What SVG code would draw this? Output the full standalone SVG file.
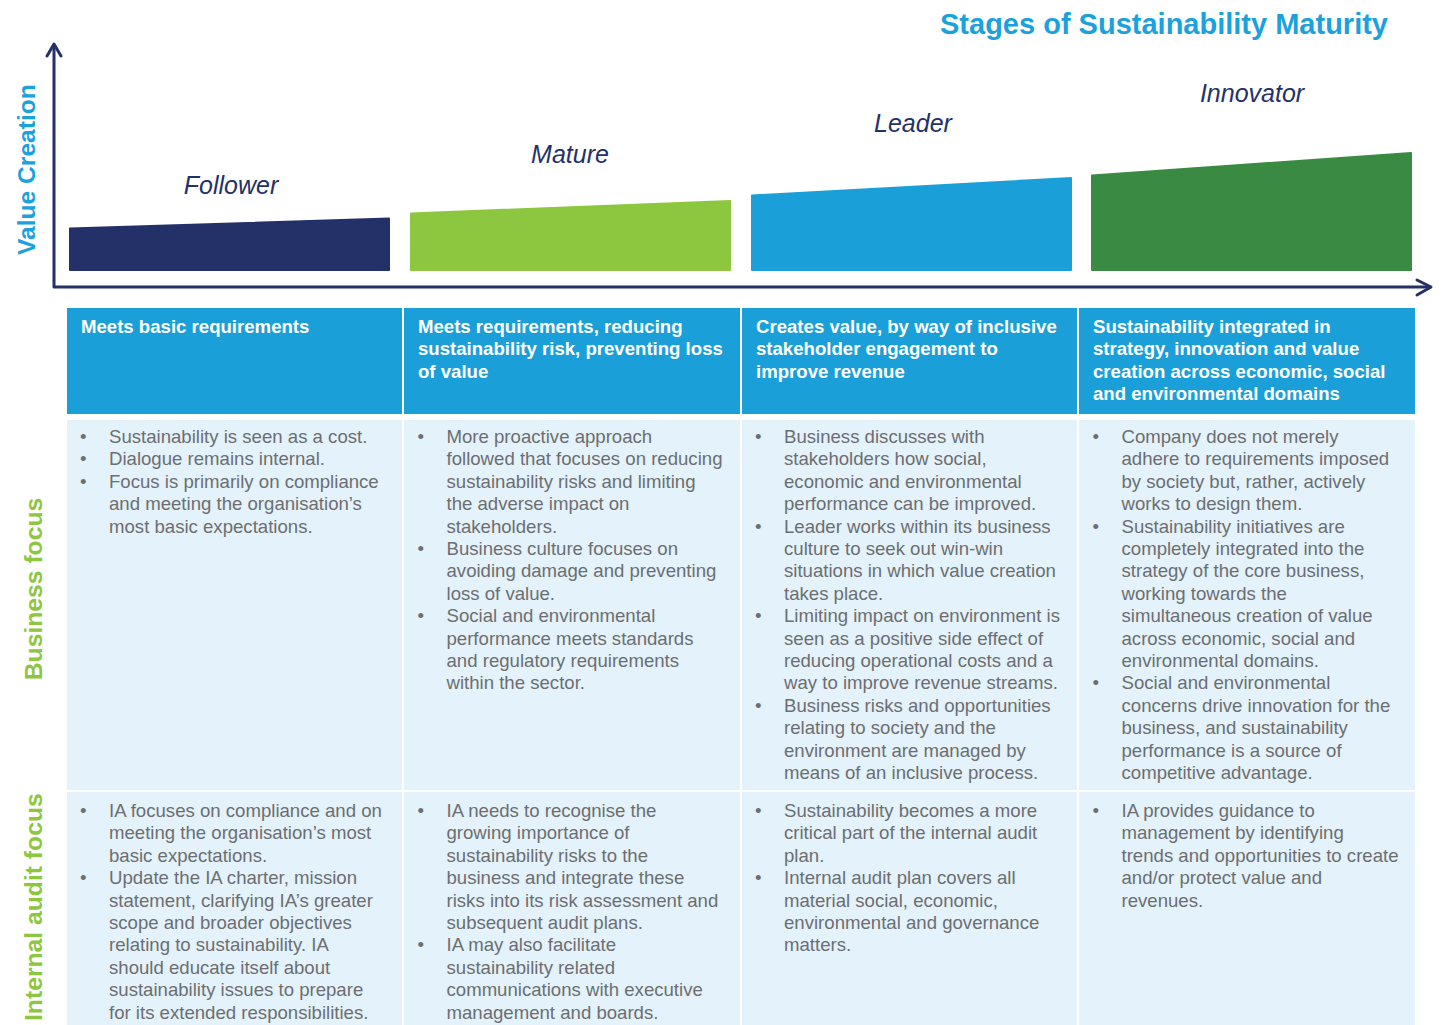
<svg xmlns="http://www.w3.org/2000/svg" width="1442" height="1025" viewBox="0 0 1442 1025">
<style>
.title{font-family:"Liberation Sans",Arial,sans-serif;font-weight:bold;font-size:29px;fill:#1ba1dc}
.axislbl{font-family:"Liberation Sans",Arial,sans-serif;font-weight:bold;font-size:24.6px;fill:#1ba1dc}
.rowlbl{font-family:"Liberation Sans",Arial,sans-serif;font-weight:bold;font-size:24.7px;fill:#8dc63f}
.stage{font-family:"Liberation Sans",Arial,sans-serif;font-style:italic;font-size:25px;fill:#243169;text-anchor:middle}
.hdr{fill:#1b9fd8}
.cell{fill:#e3f2fb}
.htxt{font-family:"Liberation Sans",Arial,sans-serif;font-weight:bold;font-size:18.6px;fill:#ffffff}
.btxt{font-family:"Liberation Sans",Arial,sans-serif;font-size:18.6px;fill:#6d6e71}
.axis{fill:none;stroke:#243169;stroke-width:3;stroke-linecap:round;stroke-linejoin:round}
.bar{stroke-width:2;stroke-linejoin:round}
</style>
<rect width="1442" height="1025" fill="#ffffff"/>

<g id="title"><text class="title" x="1388" y="34" text-anchor="end">Stages of Sustainability Maturity</text></g>
<g id="value-creation-label"><text class="axislbl" transform="translate(35,255) rotate(-90)">Value Creation</text></g>
<g id="business-focus-label"><text class="rowlbl" transform="translate(42,589) rotate(-90)" text-anchor="middle">Business focus</text></g>
<g id="internal-audit-label"><text class="rowlbl" transform="translate(42,1021) rotate(-90)">Internal audit focus</text></g>

<g id="connectors">
<path class="axis" d="M54,45 L54,287 L1430,287"/>
<path class="axis" d="M47,56 L54,44 L61,56"/>
<path class="axis" d="M1417,280 L1431,287 L1417,295"/>
</g>

<g id="follower">
<path class="bar" fill="#243169" stroke="#243169" d="M70,228.5 L389,218.5 L389,270 L70,270 Z"/>
<text class="stage" x="231" y="194">Follower</text>
</g>
<g id="mature">
<path class="bar" fill="#8dc63f" stroke="#8dc63f" d="M411,213.5 L730,201 L730,270 L411,270 Z"/>
<text class="stage" x="570" y="163">Mature</text>
</g>
<g id="leader">
<path class="bar" fill="#1b9fd8" stroke="#1b9fd8" d="M752,195.5 L1071,178 L1071,270 L752,270 Z"/>
<text class="stage" x="913" y="132">Leader</text>
</g>
<g id="innovator">
<path class="bar" fill="#3a8a43" stroke="#3a8a43" d="M1092,175.5 L1411,153 L1411,270 L1092,270 Z"/>
<text class="stage" x="1252" y="102">Innovator</text>
</g>

<g id="header-follower">
<rect class="hdr" x="67" y="308" width="335" height="106"/>
<text class="htxt"><tspan x="81" y="333">Meets basic requirements</tspan></text>
</g>
<g id="header-mature">
<rect class="hdr" x="404" y="308" width="336" height="106"/>
<text class="htxt"><tspan x="418" y="333">Meets requirements, reducing</tspan><tspan x="418" y="355.4">sustainability risk, preventing loss</tspan><tspan x="418" y="377.8">of value</tspan></text>
</g>
<g id="header-leader">
<rect class="hdr" x="742" y="308" width="335" height="106"/>
<text class="htxt"><tspan x="756" y="333">Creates value, by way of inclusive</tspan><tspan x="756" y="355.4">stakeholder engagement to</tspan><tspan x="756" y="377.8">improve revenue</tspan></text>
</g>
<g id="header-innovator">
<rect class="hdr" x="1079" y="308" width="336" height="106"/>
<text class="htxt"><tspan x="1093" y="333">Sustainability integrated in</tspan><tspan x="1093" y="355.4">strategy, innovation and value</tspan><tspan x="1093" y="377.8">creation across economic, social</tspan><tspan x="1093" y="400.2">and environmental domains</tspan></text>
</g>

<g id="business-follower">
<rect class="cell" x="67" y="420" width="335" height="370"/>
<text class="btxt">
<tspan x="80" y="443">•</tspan><tspan x="109" y="443">Sustainability is seen as a cost.</tspan>
<tspan x="80" y="465.4">•</tspan><tspan x="109" y="465.4">Dialogue remains internal.</tspan>
<tspan x="80" y="487.8">•</tspan><tspan x="109" y="487.8">Focus is primarily on compliance</tspan>
<tspan x="109" y="510.2">and meeting the organisation’s</tspan>
<tspan x="109" y="532.6">most basic expectations.</tspan>
</text>
</g>
<g id="business-mature">
<rect class="cell" x="404" y="420" width="336" height="370"/>
<text class="btxt">
<tspan x="417.5" y="443">•</tspan><tspan x="446.5" y="443">More proactive approach</tspan>
<tspan x="446.5" y="465.4">followed that focuses on reducing</tspan>
<tspan x="446.5" y="487.8">sustainability risks and limiting</tspan>
<tspan x="446.5" y="510.2">the adverse impact on</tspan>
<tspan x="446.5" y="532.6">stakeholders.</tspan>
<tspan x="417.5" y="555">•</tspan><tspan x="446.5" y="555">Business culture focuses on</tspan>
<tspan x="446.5" y="577.4">avoiding damage and preventing</tspan>
<tspan x="446.5" y="599.8">loss of value.</tspan>
<tspan x="417.5" y="622.2">•</tspan><tspan x="446.5" y="622.2">Social and environmental</tspan>
<tspan x="446.5" y="644.6">performance meets standards</tspan>
<tspan x="446.5" y="667">and regulatory requirements</tspan>
<tspan x="446.5" y="689.4">within the sector.</tspan>
</text>
</g>
<g id="business-leader">
<rect class="cell" x="742" y="420" width="335" height="370"/>
<text class="btxt">
<tspan x="755" y="443">•</tspan><tspan x="784" y="443">Business discusses with</tspan>
<tspan x="784" y="465.4">stakeholders how social,</tspan>
<tspan x="784" y="487.8">economic and environmental</tspan>
<tspan x="784" y="510.2">performance can be improved.</tspan>
<tspan x="755" y="532.6">•</tspan><tspan x="784" y="532.6">Leader works within its business</tspan>
<tspan x="784" y="555">culture to seek out win-win</tspan>
<tspan x="784" y="577.4">situations in which value creation</tspan>
<tspan x="784" y="599.8">takes place.</tspan>
<tspan x="755" y="622.2">•</tspan><tspan x="784" y="622.2">Limiting impact on environment is</tspan>
<tspan x="784" y="644.6">seen as a positive side effect of</tspan>
<tspan x="784" y="667">reducing operational costs and a</tspan>
<tspan x="784" y="689.4">way to improve revenue streams.</tspan>
<tspan x="755" y="711.8">•</tspan><tspan x="784" y="711.8">Business risks and opportunities</tspan>
<tspan x="784" y="734.2">relating to society and the</tspan>
<tspan x="784" y="756.6">environment are managed by</tspan>
<tspan x="784" y="779">means of an inclusive process.</tspan>
</text>
</g>
<g id="business-innovator">
<rect class="cell" x="1079" y="420" width="336" height="370"/>
<text class="btxt">
<tspan x="1092.5" y="443">•</tspan><tspan x="1121.5" y="443">Company does not merely</tspan>
<tspan x="1121.5" y="465.4">adhere to requirements imposed</tspan>
<tspan x="1121.5" y="487.8">by society but, rather, actively</tspan>
<tspan x="1121.5" y="510.2">works to design them.</tspan>
<tspan x="1092.5" y="532.6">•</tspan><tspan x="1121.5" y="532.6">Sustainability initiatives are</tspan>
<tspan x="1121.5" y="555">completely integrated into the</tspan>
<tspan x="1121.5" y="577.4">strategy of the core business,</tspan>
<tspan x="1121.5" y="599.8">working towards the</tspan>
<tspan x="1121.5" y="622.2">simultaneous creation of value</tspan>
<tspan x="1121.5" y="644.6">across economic, social and</tspan>
<tspan x="1121.5" y="667">environmental domains.</tspan>
<tspan x="1092.5" y="689.4">•</tspan><tspan x="1121.5" y="689.4">Social and environmental</tspan>
<tspan x="1121.5" y="711.8">concerns drive innovation for the</tspan>
<tspan x="1121.5" y="734.2">business, and sustainability</tspan>
<tspan x="1121.5" y="756.6">performance is a source of</tspan>
<tspan x="1121.5" y="779">competitive advantage.</tspan>
</text>
</g>

<g id="audit-follower">
<rect class="cell" x="67" y="792" width="335" height="240"/>
<text class="btxt">
<tspan x="80" y="817">•</tspan><tspan x="109" y="817">IA focuses on compliance and on</tspan>
<tspan x="109" y="839.4">meeting the organisation’s most</tspan>
<tspan x="109" y="861.8">basic expectations.</tspan>
<tspan x="80" y="884.2">•</tspan><tspan x="109" y="884.2">Update the IA charter, mission</tspan>
<tspan x="109" y="906.6">statement, clarifying IA’s greater</tspan>
<tspan x="109" y="929">scope and broader objectives</tspan>
<tspan x="109" y="951.4">relating to sustainability. IA</tspan>
<tspan x="109" y="973.8">should educate itself about</tspan>
<tspan x="109" y="996.2">sustainability issues to prepare</tspan>
<tspan x="109" y="1018.6">for its extended responsibilities.</tspan>
</text>
</g>
<g id="audit-mature">
<rect class="cell" x="404" y="792" width="336" height="240"/>
<text class="btxt">
<tspan x="417.5" y="817">•</tspan><tspan x="446.5" y="817">IA needs to recognise the</tspan>
<tspan x="446.5" y="839.4">growing importance of</tspan>
<tspan x="446.5" y="861.8">sustainability risks to the</tspan>
<tspan x="446.5" y="884.2">business and integrate these</tspan>
<tspan x="446.5" y="906.6">risks into its risk assessment and</tspan>
<tspan x="446.5" y="929">subsequent audit plans.</tspan>
<tspan x="417.5" y="951.4">•</tspan><tspan x="446.5" y="951.4">IA may also facilitate</tspan>
<tspan x="446.5" y="973.8">sustainability related</tspan>
<tspan x="446.5" y="996.2">communications with executive</tspan>
<tspan x="446.5" y="1018.6">management and boards.</tspan>
</text>
</g>
<g id="audit-leader">
<rect class="cell" x="742" y="792" width="335" height="240"/>
<text class="btxt">
<tspan x="755" y="817">•</tspan><tspan x="784" y="817">Sustainability becomes a more</tspan>
<tspan x="784" y="839.4">critical part of the internal audit</tspan>
<tspan x="784" y="861.8">plan.</tspan>
<tspan x="755" y="884.2">•</tspan><tspan x="784" y="884.2">Internal audit plan covers all</tspan>
<tspan x="784" y="906.6">material social, economic,</tspan>
<tspan x="784" y="929">environmental and governance</tspan>
<tspan x="784" y="951.4">matters.</tspan>
</text>
</g>
<g id="audit-innovator">
<rect class="cell" x="1079" y="792" width="336" height="240"/>
<text class="btxt">
<tspan x="1092.5" y="817">•</tspan><tspan x="1121.5" y="817">IA provides guidance to</tspan>
<tspan x="1121.5" y="839.4">management by identifying</tspan>
<tspan x="1121.5" y="861.8">trends and opportunities to create</tspan>
<tspan x="1121.5" y="884.2">and/or protect value and</tspan>
<tspan x="1121.5" y="906.6">revenues.</tspan>
</text>
</g>
</svg>
